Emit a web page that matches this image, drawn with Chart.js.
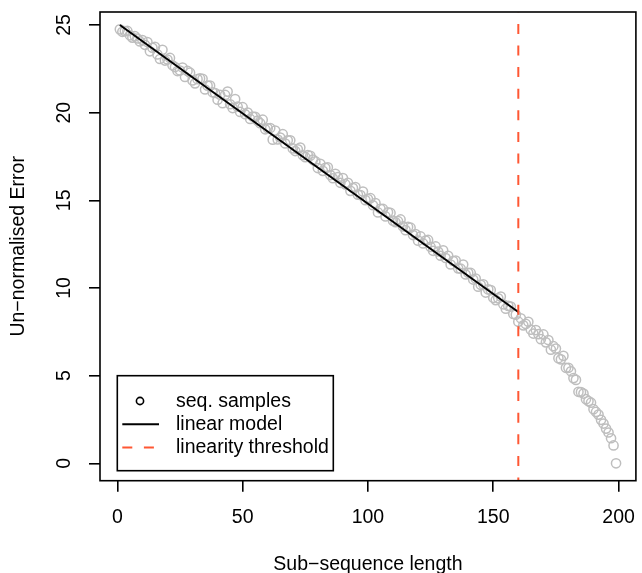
<!DOCTYPE html>
<html>
<head>
<meta charset="utf-8">
<script src="https://cdn.jsdelivr.net/npm/chart.js@4"></script>
<style>
html,body{margin:0;padding:0;background:#fff;}
canvas{display:block;}
</style>
</head>
<body>
<canvas id="c" width="642" height="573"></canvas>
<script>
// ---- data ----
const xValues = [];
for (let i = 1; i <= 199; i++) xValues.push(i);
const yValues = [
  24.75, 24.61, 24.65, 24.66, 24.41, 24.28, 24.36, 24.23, 24.06, 24.14,
  23.87, 24.03, 23.50, 23.70, 23.75, 23.32, 23.06, 23.58, 22.97, 23.03,
  23.12, 22.70, 22.60, 22.37, 22.40, 22.57, 22.04, 22.38, 22.28, 21.84,
  21.67, 21.91, 21.95, 21.93, 21.32, 21.54, 21.54, 21.16, 21.12, 20.74,
  21.02, 20.54, 21.01, 21.20, 20.48, 20.26, 20.77, 20.34, 20.04, 20.31,
  19.91, 20.00, 19.64, 19.78, 19.76, 19.54, 19.40, 19.60, 19.05, 19.11,
  19.12, 18.46, 18.98, 18.47, 18.58, 18.77, 18.24, 18.42, 18.42, 17.96,
  17.81, 17.91, 18.01, 17.57, 17.46, 17.58, 17.54, 17.32, 17.22, 16.84,
  17.08, 16.68, 16.85, 16.88, 16.44, 16.26, 16.51, 16.32, 16.00, 16.27,
  15.91, 16.00, 15.54, 15.70, 15.76, 15.32, 15.30, 15.50, 15.01, 15.07,
  15.12, 14.72, 14.84, 14.31, 14.52, 14.51, 14.08, 14.32, 14.28, 13.84,
  13.75, 13.81, 13.91, 13.51, 13.30, 13.48, 13.44, 13.02, 13.08, 12.70,
  12.94, 12.54, 12.71, 12.74, 12.34, 12.12, 12.37, 12.08, 11.84, 12.15,
  11.71, 11.84, 11.34, 11.54, 11.56, 11.12, 11.10, 11.34, 10.77, 10.87,
  10.86, 10.48, 10.54, 10.07, 10.18, 10.21, 9.74, 9.92, 9.88, 9.44,
  9.31, 9.41, 9.51, 9.07, 8.82, 8.98, 8.94, 8.52, 8.48, 8.08,
  8.27, 7.87, 7.95, 8.07, 7.62, 7.40, 7.60, 7.37, 7.08, 7.35,
  6.90, 7.03, 6.48, 6.68, 6.55, 6.00, 5.93, 6.13, 5.45, 5.45,
  5.25, 4.86, 4.76, 4.08, 4.06, 3.98, 3.66, 3.55, 3.46, 3.09,
  2.93, 2.78, 2.48, 2.27, 1.98, 1.76, 1.43, 1.02, 0.00
];
const modelX = [1, 160];
const modelY = [25.0, 8.63];
const thresholdX = 160;
const xTicks = [0, 50, 100, 150, 200];
const yTicks = [0, 5, 10, 15, 20, 25];
const legendLabels = ['seq. samples', 'linear model', 'linearity threshold'];

// R-style axis ranges (4% extension of data range)
const xr = [Math.min(...xValues), Math.max(...xValues)];
const yr = [Math.min(...yValues), Math.max(...yValues)];
const xMin = xr[0] - 0.04 * (xr[1] - xr[0]);
const xMax = xr[1] + 0.04 * (xr[1] - xr[0]);
const yMin = yr[0] - 0.04 * (yr[1] - yr[0]);
const yMax = yr[1] + 0.04 * (yr[1] - yr[0]);

const FONT = '"Liberation Sans", Arial, Helvetica, sans-serif';
const FS = 19.5;
const RED = '#FF5733';
const GRAY = '#BEBEBE';

const boxPlugin = {
  id: 'rbox',
  afterDraw(chart) {
    const {ctx, chartArea: a} = chart;
    ctx.save();
    ctx.strokeStyle = '#000';
    ctx.lineWidth = 1.6;
    ctx.strokeRect(a.left, a.top, a.right - a.left, a.bottom - a.top);
    ctx.restore();
  }
};

const legendPlugin = {
  id: 'rlegend',
  afterDraw(chart) {
    const {ctx, chartArea: a} = chart;
    const ds = chart.data.datasets;
    const L = a.left + 17.3, W = 216, B = a.bottom - 10, H = 95, T = B - H;
    ctx.save();
    ctx.fillStyle = '#fff';
    ctx.fillRect(L, T, W, H);
    ctx.strokeStyle = '#000';
    ctx.lineWidth = 1.6;
    ctx.strokeRect(L, T, W, H);
    ctx.font = FS + 'px ' + FONT;
    ctx.textBaseline = 'alphabetic';
    ctx.textAlign = 'left';
    for (let i = 0; i < ds.length; i++) {
      const y = T + 25.3 + i * 23.2;
      const d = ds[i];
      if (i === 0) {
        ctx.beginPath();
        ctx.lineWidth = 1.6;
        ctx.strokeStyle = '#000';
        ctx.arc(L + 22.7, y, 3.6, 0, Math.PI * 2);
        ctx.stroke();
      } else {
        ctx.beginPath();
        ctx.lineWidth = d.borderWidth;
        ctx.strokeStyle = d.borderColor;
        ctx.setLineDash(d.borderDash || []);
        ctx.lineDashOffset = 0;
        ctx.moveTo(L + 5, y);
        ctx.lineTo(L + 41.7, y);
        ctx.stroke();
        ctx.setLineDash([]);
      }
      ctx.fillStyle = '#000';
      ctx.fillText(d.label, L + 58.7, y + 5.5);
    }
    ctx.restore();
  }
};

function noPad(s) { s.paddingLeft = 0; s.paddingRight = 0; s.paddingTop = 0; s.paddingBottom = 0; }

new Chart(document.getElementById('c'), {
  type: 'scatter',
  data: {
    datasets: [
      {
        label: legendLabels[0],
        data: xValues.map((x, i) => ({x: x, y: yValues[i]})),
        showLine: false,
        pointStyle: 'circle',
        pointRadius: 4.6,
        pointBorderWidth: 1.5,
        pointBorderColor: GRAY,
        pointBackgroundColor: 'rgba(0,0,0,0)',
        order: 3
      },
      {
        label: legendLabels[1],
        data: modelX.map((x, i) => ({x: x, y: modelY[i]})),
        showLine: true,
        borderColor: '#000',
        borderWidth: 2,
        pointRadius: 0,
        fill: false,
        order: 2
      },
      {
        label: legendLabels[2],
        data: [{x: thresholdX, y: yMax}, {x: thresholdX, y: yMin}],
        showLine: true,
        borderColor: RED,
        borderWidth: 2,
        borderDash: [10, 11.6],
        borderDashOffset: 9.7,
        pointRadius: 0,
        fill: false,
        order: 1
      }
    ]
  },
  options: {
    responsive: false,
    animation: false,
    devicePixelRatio: 1,
    events: [],
    layout: {padding: {top: 12, right: 1, left: 0, bottom: 0}},
    plugins: {legend: {display: false}, tooltip: {enabled: false}},
    scales: {
      x: {
        type: 'linear',
        position: 'bottom',
        min: xMin,
        max: xMax,
        afterBuildTicks: s => { s.ticks = xTicks.map(v => ({value: v})); },
        afterFit: s => { s.height = 573 - 480.7; noPad(s); },
        grid: {display: true, drawOnChartArea: false, drawTicks: true, tickLength: 11, color: '#000', lineWidth: 1.6},
        border: {display: false},
        ticks: {autoSkip: false, minRotation: 0, maxRotation: 0, padding: 14, color: '#000',
                font: {family: FONT, size: FS}, callback: v => String(v)},
        title: {display: true, text: 'Sub\u2212sequence length', color: '#000',
                font: {family: FONT, size: FS, lineHeight: 1}, padding: {top: 0, bottom: -1}}
      },
      y: {
        type: 'linear',
        position: 'left',
        min: yMin,
        max: yMax,
        afterBuildTicks: s => { s.ticks = yTicks.map(v => ({value: v})); },
        afterFit: s => { s.width = 100; noPad(s); },
        grid: {display: true, drawOnChartArea: false, drawTicks: true, tickLength: 11, color: '#000', lineWidth: 1.6},
        border: {display: false},
        ticks: {autoSkip: false, minRotation: 90, maxRotation: 90, crossAlign: 'center', padding: 13.2, color: '#000',
                font: {family: FONT, size: FS}, callback: v => String(v)},
        title: {display: true, text: 'Un\u2212normalised Error', color: '#000',
                font: {family: FONT, size: FS, lineHeight: 1}, padding: {top: 8.75, bottom: 0}}
      }
    }
  },
  plugins: [boxPlugin, legendPlugin]
});
</script>
</body>
</html>
